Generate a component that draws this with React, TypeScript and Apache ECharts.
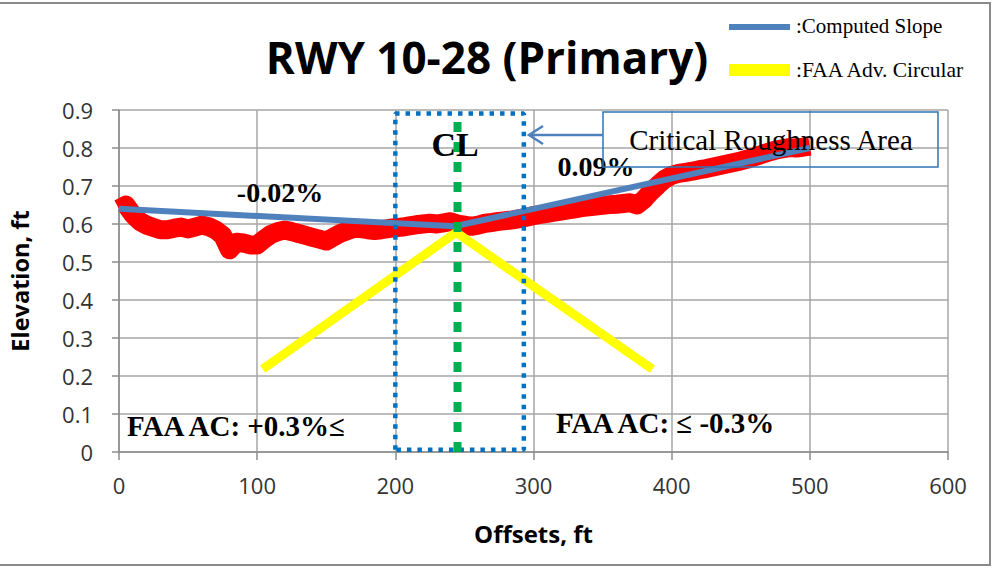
import React, { useEffect, useRef } from "react";
import * as echarts from "echarts";

// Measured surface profile (red band), every 5 ft from 0 to 500 ft
const profileOffsets: number[] = [];
for (let i = 0; i <= 100; i++) profileOffsets.push(i * 5);
const profileElev: number[] = [
  0.64, 0.65, 0.625, 0.607, 0.597, 0.591, 0.585, 0.585, 0.589, 0.592,
  0.587, 0.592, 0.597, 0.593, 0.584, 0.57, 0.532, 0.552, 0.55, 0.545,
  0.545, 0.56, 0.573, 0.58, 0.584, 0.58, 0.575, 0.57, 0.565, 0.56,
  0.555, 0.565, 0.575, 0.582, 0.588, 0.588, 0.585, 0.583, 0.585, 0.588,
  0.59, 0.592, 0.595, 0.598, 0.6, 0.602, 0.6, 0.603, 0.606, 0.6,
  0.597, 0.594, 0.597, 0.602, 0.604, 0.607, 0.609, 0.611, 0.614, 0.618,
  0.622, 0.625, 0.628, 0.631, 0.634, 0.637, 0.64, 0.643, 0.645, 0.647,
  0.649, 0.651, 0.652, 0.654, 0.656, 0.65, 0.665, 0.685, 0.702, 0.718,
  0.728, 0.733, 0.736, 0.739, 0.743, 0.746, 0.75, 0.754, 0.758, 0.762,
  0.766, 0.771, 0.777, 0.783, 0.789, 0.794, 0.798, 0.801, 0.8, 0.802,
  0.805,
];

// Computed slope (blue)
const slopeX = [0, 243, 500];
const slopeY = [0.64, 0.594, 0.8];

// FAA Advisory Circular (yellow)
const faaX = [104, 244, 386];
const faaY = [0.218, 0.578, 0.218];

// Centerline (green dashed)
const clX = [245, 245];
const clY = [0, 0.885];

// Critical area box (blue dotted)
const boxX = [200, 200, 293, 293, 200];
const boxY = [0.006, 0.891, 0.891, 0.006, 0.006];

const xTicks = [0, 100, 200, 300, 400, 500, 600];
const yTicks = [0, 0.1, 0.2, 0.3, 0.4, 0.5, 0.6, 0.7, 0.8, 0.9];

const zip = (xs: number[], ys: number[]) => xs.map((x, i) => [x, ys[i]]);

export default function App() {
  const ref = useRef<HTMLDivElement>(null);
  useEffect(() => {
    if (!ref.current) return;
    const chart = echarts.init(ref.current, undefined, { renderer: "svg" });
    const serif = "'Liberation Serif', 'Times New Roman', serif";
    const sans = "'Open Sans', sans-serif";
    chart.setOption({
      animation: false,
      backgroundColor: "#ffffff",
      grid: { left: 117, right: 46, top: 110, bottom: 116, containLabel: false },
      xAxis: {
        type: "value",
        min: xTicks[0],
        max: xTicks[xTicks.length - 1],
        interval: 100,
        name: "Offsets, ft",
        nameLocation: "middle",
        nameGap: 69,
        nameTextStyle: { fontFamily: sans, fontWeight: "bold", fontSize: 24, color: "#000" },
        axisLine: { show: true, lineStyle: { color: "#8c8c8c", width: 1.5 } },
        axisTick: { show: true, length: 8, lineStyle: { color: "#8c8c8c", width: 1.5 } },
        axisLabel: { fontFamily: sans, fontSize: 22, color: "#333", margin: 22 },
        splitLine: { show: true, lineStyle: { color: "#a6a6a6", width: 1.5 } },
      },
      yAxis: {
        type: "value",
        min: yTicks[0],
        max: yTicks[yTicks.length - 1],
        interval: 0.1,
        name: "Elevation, ft",
        nameLocation: "middle",
        nameGap: 87,
        nameRotate: 90,
        nameTextStyle: { fontFamily: sans, fontWeight: "bold", fontSize: 23.5, color: "#000" },
        axisLine: { show: true, lineStyle: { color: "#8c8c8c", width: 1.5 } },
        axisTick: { show: true, length: 7, lineStyle: { color: "#8c8c8c", width: 1.5 } },
        axisLabel: {
          fontFamily: sans,
          fontSize: 22,
          color: "#333",
          margin: 26,
          formatter: (v: number) => (v === 0 ? "0" : v.toFixed(1)),
        },
        splitLine: { show: true, lineStyle: { color: "#a6a6a6", width: 1.5 } },
      },
      series: [
        {
          name: "Profile",
          type: "line",
          data: zip(profileOffsets, profileElev),
          symbol: "none",
          silent: true,
          z: 2,
          lineStyle: { color: "#ff0000", width: 19, join: "round" },
        },
        {
          name: "FAA Adv. Circular",
          type: "line",
          data: zip(faaX, faaY),
          symbol: "none",
          silent: true,
          z: 3,
          lineStyle: { color: "#ffff00", width: 9 },
        },
        {
          name: "Computed Slope",
          type: "line",
          data: zip(slopeX, slopeY),
          symbol: "none",
          silent: true,
          z: 4,
          lineStyle: { color: "#4f81bd", width: 6 },
        },
        {
          name: "Critical Box",
          type: "line",
          data: zip(boxX, boxY),
          symbol: "none",
          silent: true,
          z: 5,
          lineStyle: { color: "#0070c0", width: 4.5, type: [4.5, 6], cap: "butt" },
        },
        {
          name: "CL",
          type: "line",
          data: zip(clX, clY),
          symbol: "none",
          silent: true,
          z: 6,
          lineStyle: { color: "#00b050", width: 8, type: [10, 10], cap: "butt" },
        },
      ],
      graphic: [
        { type: "rect", silent: true, shape: { x: -5, y: 3, width: 995, height: 562 }, style: { fill: "none", stroke: "#8a8a8a", lineWidth: 2 } },
        { type: "text", x: 487, y: 57, style: { text: "RWY 10-28 (Primary)", font: "bold 44px 'Open Sans', sans-serif", fill: "#000", textAlign: "center", textVerticalAlign: "middle" } },
        { type: "rect", shape: { x: 729, y: 24, width: 61, height: 6 }, style: { fill: "#4f81bd" } },
        { type: "text", x: 796, y: 26, style: { text: ":Computed Slope", font: "21px " + serif, fill: "#000", textVerticalAlign: "middle" } },
        { type: "rect", shape: { x: 729, y: 64, width: 61, height: 12 }, style: { fill: "#ffff00" } },
        { type: "text", x: 796, y: 70, style: { text: ":FAA Adv. Circular", font: "21.5px " + serif, fill: "#000", textVerticalAlign: "middle" } },
        { type: "text", x: 455, y: 144, z: 100, style: { text: "CL", font: "bold 34px " + serif, fill: "#000", textAlign: "center", textVerticalAlign: "middle" } },
        { type: "text", x: 280, y: 192, z: 100, style: { text: "-0.02%", font: "bold 28px " + serif, fill: "#000", textAlign: "center", textVerticalAlign: "middle" } },
        { type: "text", x: 596, y: 166, z: 100, style: { text: "0.09%", font: "bold 28px " + serif, fill: "#000", textAlign: "center", textVerticalAlign: "middle" } },
        { type: "rect", z: 100, shape: { x: 603, y: 112, width: 335, height: 55 }, style: { fill: "none", stroke: "#2e75b6", lineWidth: 1.5 } },
        { type: "text", x: 771, y: 140, z: 101, style: { text: "Critical Roughness Area", font: "29px " + serif, fill: "#000", textAlign: "center", textVerticalAlign: "middle" } },
        { type: "line", z: 100, shape: { x1: 603, y1: 135, x2: 529, y2: 135 }, style: { stroke: "#4f81bd", lineWidth: 2.5 } },
        { type: "polyline", z: 100, shape: { points: [[543, 126], [529, 135], [543, 144]] }, style: { stroke: "#4f81bd", lineWidth: 2.5, fill: "none" } },
        { type: "text", x: 127, y: 426, z: 100, style: { text: "FAA AC: +0.3%≤", font: "bold 29px " + serif, fill: "#000", textVerticalAlign: "middle" } },
        { type: "text", x: 556, y: 423, z: 100, style: { text: "FAA AC: ≤ -0.3%", font: "bold 29px " + serif, fill: "#000", textVerticalAlign: "middle" } },
      ],
    });
    return () => chart.dispose();
  }, []);
  return <div ref={ref} style={{ position: "fixed", left: 0, top: 0, width: 994, height: 568 }} />;
}
